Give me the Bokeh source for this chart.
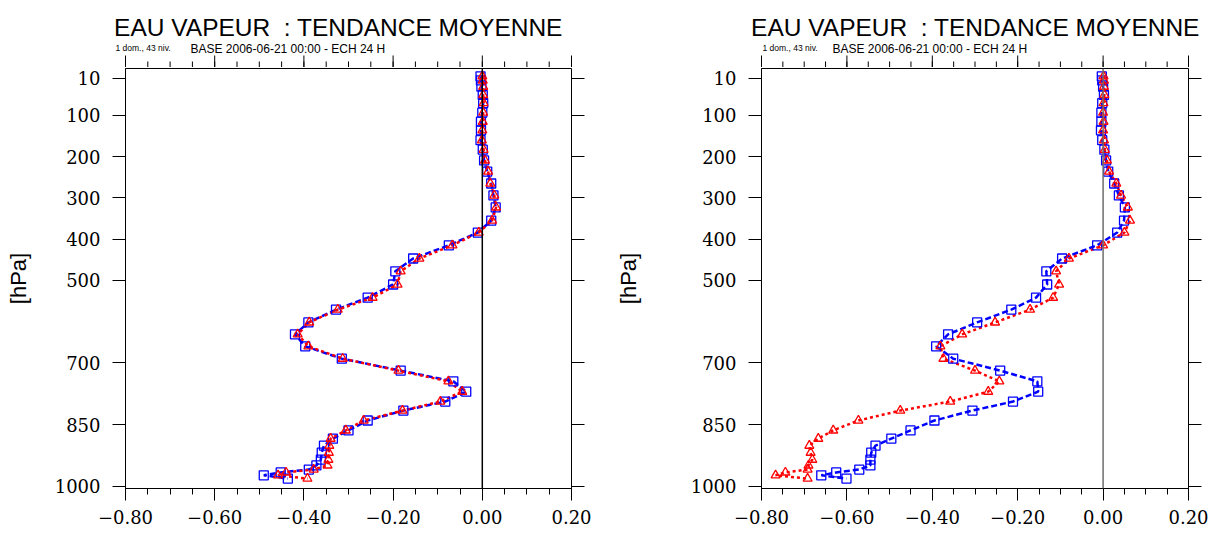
from bokeh.plotting import figure
from bokeh.layouts import row, column
from bokeh.models import (Range1d, FixedTicker, LinearAxis, CustomJSTickFormatter,
                          Span, ColumnDataSource)
from bokeh.core.properties import value
from bokeh.embed import file_html
from bokeh.resources import INLINE

# ---- data ----
LEVELS = [5, 15, 30, 50, 70, 93, 115, 136, 160, 183,
          209, 236, 265, 294, 323, 355, 384, 415, 447, 478,
          510, 542, 571, 602, 631, 660, 690, 719, 745, 770,
          794, 816, 840, 864, 884, 901, 918, 935, 949, 959,
          966, 973, 981]

LEFT_BLUE = [-0.004, -0.003, -0.002, 0.001, 0.002, 0.000, -0.003, -0.003, -0.004, 0.001,
             0.004, 0.011, 0.020, 0.025, 0.030, 0.020, -0.010, -0.075, -0.155, -0.195,
             -0.200, -0.257, -0.328, -0.390, -0.420, -0.397, -0.315, -0.183, -0.065, -0.036,
             -0.083, -0.177, -0.257, -0.300, -0.335, -0.355, -0.360, -0.362, -0.372, -0.389,
             -0.452, -0.490, -0.436]
LEFT_RED = [0.000, 0.001, 0.002, 0.002, 0.003, 0.002, 0.001, 0.000, -0.001, 0.003,
            0.006, 0.013, 0.018, 0.027, 0.031, 0.022, -0.008, -0.067, -0.141, -0.183,
            -0.190, -0.246, -0.324, -0.388, -0.414, -0.390, -0.313, -0.188, -0.076, -0.045,
            -0.094, -0.179, -0.266, -0.306, -0.340, -0.343, -0.344, -0.345, -0.347, -0.378,
            -0.440, -0.458, -0.392]
RIGHT_BLUE = [-0.003, -0.002, 0.000, 0.002, -0.002, -0.004, -0.004, -0.005, -0.002, 0.003,
              0.007, 0.012, 0.026, 0.037, 0.051, 0.049, 0.033, -0.014, -0.096, -0.133,
              -0.131, -0.157, -0.215, -0.295, -0.363, -0.391, -0.351, -0.241, -0.154, -0.152,
              -0.211, -0.306, -0.395, -0.451, -0.496, -0.533, -0.543, -0.545, -0.545, -0.571,
              -0.625, -0.660, -0.601]
RIGHT_RED = [0.001, 0.002, 0.002, 0.003, 0.001, 0.000, 0.001, 0.000, 0.002, 0.004,
             0.009, 0.014, 0.031, 0.042, 0.058, 0.063, 0.050, 0.000, -0.080, -0.110,
             -0.103, -0.117, -0.171, -0.253, -0.330, -0.381, -0.374, -0.300, -0.243, -0.269,
             -0.358, -0.475, -0.573, -0.632, -0.667, -0.688, -0.685, -0.681, -0.690, -0.692,
             -0.744, -0.767, -0.692]

X_RANGE = (-0.8, 0.2)
Y_RANGE = (1005, -14)          # reversed pressure axis (bottom, top)
Y_TICKS = [10, 100, 200, 300, 400, 500, 700, 850, 1000]
X_TICKS = [-0.8, -0.6, -0.4, -0.2, 0.0, 0.2]
X_MINOR = [-0.8, -0.75, -0.7, -0.65, -0.6, -0.55, -0.5, -0.45, -0.4, -0.35, -0.3,
           -0.25, -0.2, -0.15, -0.1, -0.05, 0.0, 0.05, 0.1, 0.15, 0.2]

TITLE = "EAU VAPEUR\u00a0 : TENDANCE MOYENNE"
SUB1 = "1 dom., 43 niv."
SUB2 = "BASE 2006-06-21 00:00 - ECH 24 H"
YLABEL = "[hPa]"

TICK_FONT = "DejaVu Serif"
SANS = "Liberation Sans"

W, H = 1216, 534
PANEL_W = 608
STRIP_H = 67
MAJOR_LEN, MINOR_LEN = 12, 6

xfmt_code = "return (tick < -1e-9 ? '\u2212' : '') + Math.abs(tick).toFixed(2);"


def strip_fig(frame_left, frame_w, title_x, sub1_x, sub2_x):
    """Header above one panel: title texts plus the top-edge tick marks."""
    scale = frame_w / (X_RANGE[1] - X_RANGE[0])
    x0 = X_RANGE[0] - frame_left / scale
    x1 = x0 + PANEL_W / scale
    s = figure(width=PANEL_W, height=STRIP_H, output_backend="svg", toolbar_location=None,
               title=None, x_range=Range1d(x0, x1), y_range=Range1d(STRIP_H, 0),
               min_border=0, x_axis_location=None, y_axis_location=None,
               outline_line_color=None, background_fill_color="white",
               border_fill_color="white")
    s.xgrid.visible = False
    s.ygrid.visible = False
    s.extra_x_ranges = {"px": Range1d(0, PANEL_W)}

    nmin, nmaj = len(X_MINOR), len(X_TICKS)
    s.segment(x0=X_MINOR, y0=[STRIP_H - MINOR_LEN] * nmin, x1=X_MINOR, y1=[STRIP_H] * nmin,
              line_color="black", line_width=1)
    s.segment(x0=X_TICKS, y0=[STRIP_H - MAJOR_LEN] * nmaj, x1=X_TICKS, y1=[STRIP_H] * nmaj,
              line_color="black", line_width=1)

    s.text(x=[title_x], y=[27], text=[TITLE], x_range_name="px", text_align="center",
           text_baseline="alphabetic", text_font=value(SANS),
           text_font_size=value("24.5px"), text_color="black")
    s.text(x=[sub1_x], y=[47], text=[SUB1], x_range_name="px", text_align="left",
           text_baseline="alphabetic", text_font=value(SANS),
           text_font_size=value("8.5px"), text_color="black")
    s.text(x=[sub2_x], y=[48], text=[SUB2], x_range_name="px", text_align="left",
           text_baseline="alphabetic", text_font=value(SANS),
           text_font_size=value("12px"), text_color="black")
    return s


def panel(blue, red, bl, br, bb, zero_color, ylab_standoff):
    p = figure(width=PANEL_W, height=H - STRIP_H, output_backend="svg",
               toolbar_location=None, title=None,
               x_range=Range1d(*X_RANGE), y_range=Range1d(*Y_RANGE),
               min_border_left=bl, min_border_right=br, min_border_top=1,
               min_border_bottom=bb, x_axis_location=None, y_axis_location=None,
               background_fill_color="white", border_fill_color="white",
               outline_line_color="black", outline_line_width=1)
    p.xgrid.visible = False
    p.ygrid.visible = False

    xt = FixedTicker(ticks=X_TICKS, minor_ticks=X_MINOR)
    yt = FixedTicker(ticks=Y_TICKS, minor_ticks=[])

    ax = LinearAxis(ticker=xt, formatter=CustomJSTickFormatter(code=xfmt_code))
    ax.axis_line_color = "black"
    ax.major_tick_in = 0
    ax.major_tick_out = MAJOR_LEN
    ax.minor_tick_in = 0
    ax.minor_tick_out = MINOR_LEN
    ax.major_tick_line_color = "black"
    ax.minor_tick_line_color = "black"
    ax.major_label_text_font = TICK_FONT
    ax.major_label_text_font_size = "18px"
    ax.major_label_text_color = "black"
    ax.major_label_standoff = 9
    p.add_layout(ax, "below")

    for loc in ("left", "right"):
        ay = LinearAxis(ticker=yt)
        ay.axis_line_color = "black"
        ay.major_tick_in = 0
        ay.major_tick_out = 13
        ay.minor_tick_in = 0
        ay.minor_tick_out = 0
        ay.major_tick_line_color = "black"
        ay.major_label_text_font = TICK_FONT
        ay.major_label_text_font_size = "18px"
        ay.major_label_text_color = "black"
        ay.major_label_standoff = 12
        if loc == "left":
            ay.axis_label = YLABEL
            ay.axis_label_text_font = SANS
            ay.axis_label_text_font_size = "22px"
            ay.axis_label_text_font_style = "normal"
            ay.axis_label_text_color = "black"
            ay.axis_label_standoff = ylab_standoff
        else:
            ay.axis_line_color = None
            ay.major_label_text_font_size = "1px"
            ay.major_label_text_color = None
            ay.major_label_standoff = 0
        p.add_layout(ay, loc)

    p.add_layout(Span(location=0, dimension="height", line_color=zero_color, line_width=1.5))

    src = ColumnDataSource(dict(p=LEVELS, blue=blue, red=red))
    p.line("blue", "p", source=src, line_color="#0000ff", line_width=2.5, line_dash="6 3")
    p.line("red", "p", source=src, line_color="#ff0000", line_width=2.5, line_dash="3 3")
    p.scatter("blue", "p", source=src, marker="square", size=9, fill_color=None,
              line_color="#0000ff", line_width=1.3)
    p.scatter("red", "p", source=src, marker="triangle", size=9, fill_color=None,
              line_color="#ff0000", line_width=1.3)
    return p


# left panel frame: x 125..571 ; right panel frame: x 761..1188 (page pixels)
strip_l = strip_fig(125, 446, 338, 115, 190)
strip_r = strip_fig(153, 427, 367, 154, 224)
left = panel(LEFT_BLUE, LEFT_RED, 125, 37, 46, "black", 21)
right = panel(RIGHT_BLUE, RIGHT_RED, 153, 28, 46, "#6e6e6e", 47)

layout = column(row(strip_l, strip_r), row(left, right))
open("out.html", "w").write(file_html(layout, INLINE))
